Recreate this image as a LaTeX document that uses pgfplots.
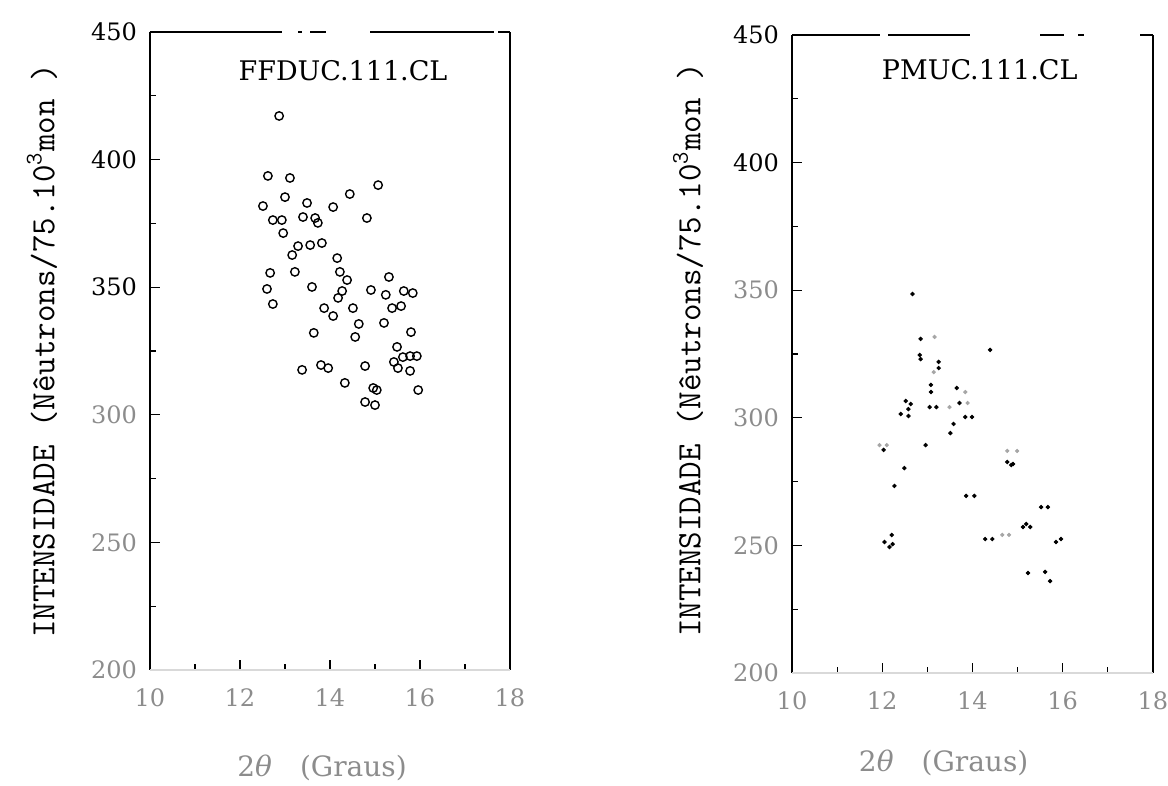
\documentclass[border=0pt]{standalone}
\usepackage{pgfplots}
\pgfplotsset{compat=1.18}
\usepackage{fontspec}
\setmainfont{DejaVu Serif}

\colorlet{faint}{black!45}

\tikzset{panelframe/.style={line width=0.8pt, black}}

\pgfplotsset{
  panel/.style={
    scale only axis, width=180pt, height=319pt,
    xmin=10, xmax=18, ymin=200, ymax=450,
    xtick={10,12,...,18}, ytick={200,250,...,450},
    minor xtick={11,13,15,17}, minor ytick={225,275,...,425},
    xtick pos=left, ytick pos=left,
    tick align=inside,
    major tick length=5pt, minor tick length=3pt,
    tick style={black, line width=0.6pt},
    axis line style={draw=none},
    clip=false,
    /pgf/number format/assume math mode=true,
    ticklabel style={font=\fontsize{12}{14}\selectfont},
    xticklabel style={color=faint, yshift=-6pt},
    yticklabel style={xshift=-3pt},
    xlabel={2{\itshape θ}\quad(Graus)},
    ylabel={INTENSIDADE (Nêutrons/75.10\textsuperscript{3}mon )},
  },
  xlab/.style 2 args={every axis x label/.style={at={(axis description cs:#1,#2)}, anchor=center,
      font=\fontsize{14}{16}\selectfont, color=faint}},
  ylab/.style 2 args={every axis y label/.style={at={(axis description cs:#1,#2)}, anchor=center,
      rotate=90, font=\ttfamily\fontsize{17}{19}\selectfont}},
}

\begin{document}
\begin{tikzpicture}
\useasboundingbox (0,0) rectangle (584pt,393pt);

% ---------- FFDUC.111.CL ----------
\begin{axis}[panel,
  at={(75pt,58pt)}, anchor=south west,
  yticklabels={\textcolor{faint}{200},\textcolor{faint}{250},\textcolor{faint}{300},350,400,450},
  xlab={0.478}{-0.154},
  ylab={-0.30}{0.50},
]
\addplot[only marks, mark=o, mark size=2.1pt, mark options={line width=0.7pt, black}] coordinates {
(12.87,417.1) (12.62,393.6) (13.11,392.8) (15.07,390.0) (14.44,386.5)
(13.00,385.3) (12.51,381.8) (13.49,383.0) (14.07,381.4) (14.82,377.1)
(12.73,376.3) (12.93,376.3) (13.40,377.5) (13.67,377.1) (13.73,375.2)
(12.96,371.2) (13.29,366.1) (13.56,366.5) (13.82,367.3) (13.16,362.6)
(14.16,361.4) (13.22,356.0) (14.22,356.0) (14.38,352.8) (12.67,355.6)
(12.60,349.3) (13.60,350.1) (15.31,354.0) (14.27,348.5) (14.18,345.8)
(14.91,348.9) (15.24,347.0) (15.64,348.5) (15.84,347.7) (12.73,343.4)
(13.87,341.8) (14.07,338.7) (14.51,341.8) (15.38,341.8) (15.58,342.6)
(14.64,335.6) (15.20,336.0) (15.80,332.4) (13.64,332.1) (14.56,330.5)
(15.49,326.6) (15.42,320.7) (15.62,322.6) (15.78,323.0) (15.93,323.0)
(13.80,319.5) (13.96,318.3) (14.78,319.1) (15.51,318.3) (15.78,317.2)
(13.38,317.6) (14.33,312.5) (14.96,310.5) (15.04,309.7) (15.96,309.7)
(14.78,305.0) (15.00,303.8)
};
\draw[panelframe] (rel axis cs:0,0) -- (rel axis cs:0,1);
\draw[panelframe] (rel axis cs:1,0) -- (rel axis cs:1,1);
\draw[panelframe, dash pattern=on 66pt off 8pt on 2pt off 4pt on 8pt off 22pt on 62pt off 2pt on 6pt]
  (rel axis cs:0,1) -- (rel axis cs:1,1);
\draw[black!15, line width=0.6pt] (rel axis cs:0,0) -- (rel axis cs:1,0);
\node[font=\fontsize{13.5}{16}\selectfont] at (axis description cs:0.536,0.94) {FFDUC.111.CL};
\end{axis}

% ---------- PMUC.111.CL ----------
\begin{axis}[panel,
  width=180.5pt,
  at={(396pt,56.5pt)}, anchor=south west,
  yticklabels={\textcolor{faint}{200},\textcolor{faint}{250},\textcolor{faint}{300},\textcolor{faint}{350},400,450},
  xlab={0.42}{-0.141},
  ylab={-0.288}{0.506},
]
% well resolved reflections
\addplot[only marks, mark=*, mark size=0.9pt, black] coordinates {
(12.67,348.5) (12.85,330.9) (12.83,324.6) (12.85,323.0) (14.39,326.6)
(13.25,321.9) (13.25,319.5) (13.08,312.9) (13.08,310.1) (13.65,311.7)
(12.52,306.6) (12.63,305.4) (12.41,301.5) (12.58,303.4) (12.58,300.7)
(13.05,304.2) (13.20,304.2) (13.71,305.8) (13.84,300.3) (13.99,300.3)
(13.58,297.6) (13.51,294.0) (12.03,287.4) (12.96,289.3) (12.49,280.3)
(12.27,273.3) (13.86,269.4) (14.04,269.4) (14.77,282.7) (14.86,281.5)
(14.90,281.9) (15.52,265.0) (15.67,265.0) (15.12,257.2) (15.28,257.2)
(15.19,258.4) (14.28,252.5) (14.44,252.5) (15.85,251.3) (15.96,252.5)
(12.05,251.3) (12.21,254.1) (12.23,250.5) (12.16,249.4) (15.23,239.2)
(15.61,239.6) (15.72,236.0)
};
% weak reflections
\addplot[only marks, mark=*, mark size=0.85pt, black!35] coordinates {
(13.16,331.7) (13.14,317.9) (13.84,310.1) (13.49,304.2) (13.89,305.8)
(11.94,289.3) (12.10,289.3) (14.77,287.0) (14.99,287.0) (14.66,254.1)
(14.81,254.1)
};
\draw[panelframe] (rel axis cs:0,0) -- (rel axis cs:0,1);
\draw[panelframe] (rel axis cs:1,0) -- (rel axis cs:1,1);
\draw[panelframe, dash pattern=on 44pt off 4pt on 41pt off 35pt on 12pt off 7pt on 3pt off 28pt on 7pt]
  (rel axis cs:0,1) -- (rel axis cs:1,1);
\draw[black!15, line width=0.6pt] (rel axis cs:0,0) -- (rel axis cs:1,0);
\node[font=\fontsize{13.5}{16}\selectfont] at (axis description cs:0.52,0.945) {PMUC.111.CL};
\end{axis}
\end{tikzpicture}
\end{document}
